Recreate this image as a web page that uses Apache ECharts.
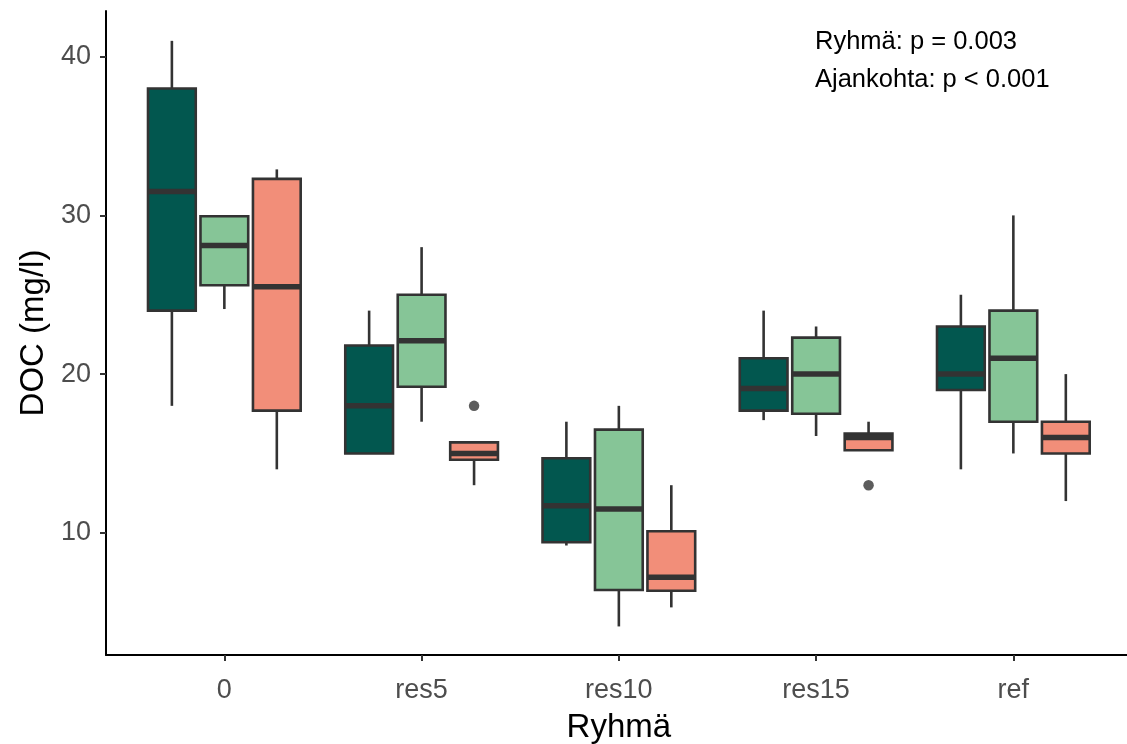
<!DOCTYPE html>
<html>
<head>
<meta charset="utf-8">
<script src="https://cdn.jsdelivr.net/npm/echarts@6/dist/echarts.min.js"></script>
<style>
  html, body { margin: 0; padding: 0; background: #ffffff; }
  #chart { width: 1127px; height: 744px; }
</style>
</head>
<body>
<div id="chart"></div>
<script>
// ---- data ----
const categories = ['0', 'res5', 'res10', 'res15', 'ref'];
const seriesNames = ['Ajankohta 1', 'Ajankohta 2', 'Ajankohta 3'];
// each entry: [lower whisker, Q1, median, Q3, upper whisker]
const boxesDark = [
  [18, 24, 31.5, 38, 41],
  [15, 15, 18, 21.8, 24],
  [9.2, 9.4, 11.7, 14.7, 17],
  [17.1, 17.7, 19.1, 21, 24],
  [14, 19, 20, 23, 25]
];
const boxesGreen = [
  [24.1, 25.6, 28.1, 29.95, 29.95],
  [17, 19.2, 22.1, 25, 28],
  [4.1, 6.4, 11.5, 16.5, 18],
  [16.1, 17.5, 20, 22.3, 23],
  [15, 17, 21, 24, 30]
];
const boxesSalmon = [
  [14, 17.7, 25.5, 32.3, 32.9],
  [13, 14.6, 15, 15.7, 15.7],
  [5.3, 6.35, 7.2, 10.1, 13],
  [15.2, 15.2, 16.0, 16.25, 17],
  [12, 15, 16, 17, 20]
];
// outliers: [category index, value]
const outliersDark = [];
const outliersGreen = [];
const outliersSalmon = [[1, 18], [3, 13]];
const yTickValues = [10, 20, 30, 40];
const annotationLines = ['Ryhmä: p = 0.003', 'Ajankohta: p < 0.001'];
const xTitle = 'Ryhmä';
const yTitle = 'DOC (mg/l)';

// ---- styling / layout ----
const colors = ['#02574F', '#86C597', '#F28E79'];
const lineColor = '#333333';
const dodge = 0.266;      // offset between boxes (category units)
const boxW = 0.242;       // box width (category units)
const offsets = [-dodge, 0, dodge];
const allBoxes = [boxesDark, boxesGreen, boxesSalmon];
const allOutliers = [outliersDark, outliersGreen, outliersSalmon];
const borderW = 2.6;
const medianW = 5.5;

function renderBox(params, api) {
  const xc = api.value(0);
  const lo = api.value(1), q1 = api.value(2), med = api.value(3), q3 = api.value(4), hi = api.value(5);
  const halfW = api.size([boxW, 0])[0] / 2;
  const pLo = api.coord([xc, lo]);
  const pQ1 = api.coord([xc, q1]);
  const pMed = api.coord([xc, med]);
  const pQ3 = api.coord([xc, q3]);
  const pHi = api.coord([xc, hi]);
  const fill = api.visual('color');
  const children = [];
  if (pHi[1] < pQ3[1]) {
    children.push({ type: 'line', shape: { x1: pQ3[0], y1: pQ3[1], x2: pHi[0], y2: pHi[1] },
      style: { stroke: lineColor, lineWidth: borderW } });
  }
  if (pLo[1] > pQ1[1]) {
    children.push({ type: 'line', shape: { x1: pQ1[0], y1: pQ1[1], x2: pLo[0], y2: pLo[1] },
      style: { stroke: lineColor, lineWidth: borderW } });
  }
  children.push({ type: 'rect',
    shape: { x: pQ3[0] - halfW, y: pQ3[1], width: halfW * 2, height: pQ1[1] - pQ3[1] },
    style: { fill: fill, stroke: lineColor, lineWidth: borderW } });
  children.push({ type: 'line',
    shape: { x1: pMed[0] - halfW, y1: pMed[1], x2: pMed[0] + halfW, y2: pMed[1] },
    style: { stroke: lineColor, lineWidth: medianW } });
  return { type: 'group', children: children };
}

const series = [];
allBoxes.forEach(function (boxes, s) {
  series.push({
    name: seriesNames[s],
    type: 'custom',
    renderItem: renderBox,
    itemStyle: { color: colors[s] },
    encode: { x: 0, y: [1, 2, 3, 4, 5] },
    data: boxes.map(function (b, i) { return [i + 1 + offsets[s]].concat(b); }),
    z: 2
  });
  if (allOutliers[s].length) {
    series.push({
      name: seriesNames[s] + ' outliers',
      type: 'scatter',
      symbol: 'circle',
      symbolSize: 10.5,
      itemStyle: { color: lineColor },
      data: allOutliers[s].map(function (o) { return [o[0] + 1 + offsets[s], o[1]]; }),
      z: 3
    });
  }
});

const chart = echarts.init(document.getElementById('chart'), null, { renderer: 'canvas' });
chart.setOption({
  animation: false,
  backgroundColor: '#ffffff',
  textStyle: { fontFamily: 'Liberation Sans, Arial, sans-serif' },
  grid: { left: 106, top: 11, width: 1025.7, height: 644, containLabel: false, outerBoundsMode: 'none' },
  xAxis: {
    type: 'value',
    min: 0.4,
    max: 5.6,
    name: xTitle,
    nameLocation: 'middle',
    nameGap: 56,
    nameTextStyle: { color: '#000000', fontSize: 33, fontFamily: 'Liberation Sans' },
    axisLine: { show: true, onZero: false, lineStyle: { color: '#000000', width: 2 } },
    axisTick: { show: true, length: 6, customValues: [1, 2, 3, 4, 5], lineStyle: { color: lineColor, width: 2 } },
    axisLabel: {
      customValues: [1, 2, 3, 4, 5],
      margin: 22,
      color: '#4D4D4D',
      fontSize: 27,
      fontFamily: 'Liberation Sans',
      formatter: function (v) { return categories[Math.round(v) - 1]; }
    },
    splitLine: { show: false }
  },
  yAxis: {
    type: 'value',
    min: 2.3,
    max: 42.88,
    name: yTitle,
    nameLocation: 'middle',
    nameRotate: 90,
    nameGap: 52,
    nameTextStyle: { color: '#000000', fontSize: 33, fontFamily: 'Liberation Sans' },
    axisLine: { show: true, onZero: false, lineStyle: { color: '#000000', width: 2 } },
    axisTick: { show: true, length: 6, customValues: yTickValues, lineStyle: { color: lineColor, width: 2 } },
    axisLabel: {
      customValues: yTickValues,
      margin: 15,
      color: '#4D4D4D',
      fontSize: 27,
      fontFamily: 'Liberation Sans'
    },
    splitLine: { show: false }
  },
  graphic: annotationLines.map(function (t, i) {
    return {
      type: 'text',
      left: 815,
      top: 29 + i * 38,
      style: { text: t, fill: '#000000', font: '25.5px "Liberation Sans"' }
    };
  }),
  series: series
});
</script>
</body>
</html>
